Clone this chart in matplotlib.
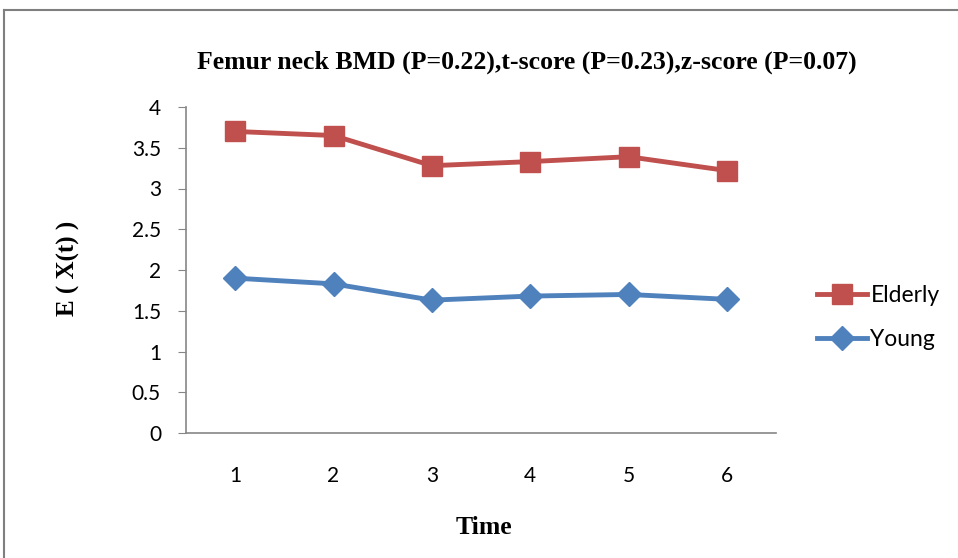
import matplotlib.pyplot as plt
from matplotlib.lines import Line2D

# values
time = [1, 2, 3, 4, 5, 6]
elderly = [3.70, 3.65, 3.28, 3.33, 3.39, 3.22]
young = [1.90, 1.83, 1.63, 1.68, 1.70, 1.64]
yticks = [0, 0.5, 1, 1.5, 2, 2.5, 3, 3.5, 4]
ytick_labels = ['0', '0.5', '1', '1.5', '2', '2.5', '3', '3.5', '4']

serif = 'Liberation Serif'
sans = 'Lato'

fig = plt.figure(figsize=(9.58, 5.58), dpi=100)
ax = fig.add_axes([186 / 958, 1 - 433 / 558, 590 / 958, 326 / 558])

ax.plot(time, elderly, color='#C0504D', lw=3.5, marker='s', ms=15, label='Elderly')
ax.plot(time, young, color='#4F81BD', lw=3.5, marker='D', ms=12, label='Young')

ax.set_xlim(0.5, 6.5)
ax.set_ylim(0, 4)
ax.set_xticks(time)
ax.set_xticklabels([str(t) for t in time], fontfamily=sans, fontsize=15)
ax.set_yticks(yticks)
ax.set_yticklabels(ytick_labels, fontfamily=sans, fontsize=15)
ax.tick_params(axis='x', length=0, pad=24)
ax.tick_params(axis='y', length=6, color='#868686', pad=12)

for s in ['top', 'right']:
    ax.spines[s].set_visible(False)
for s in ['left', 'bottom']:
    ax.spines[s].set_color('#868686')
    ax.spines[s].set_linewidth(1.2)

fig.text(527 / 958, 1 - 62 / 558, 'Femur neck BMD (P=0.22),t-score (P=0.23),z-score (P=0.07)',
         ha='center', va='center', fontfamily=serif, fontweight='bold', fontsize=18.5)
fig.text(68 / 958, 1 - 268 / 558, 'E ( X(t) )', rotation=90, ha='center', va='center',
         fontfamily=serif, fontweight='bold', fontsize=18)
fig.text(484 / 958, 1 - 527 / 558, 'Time', ha='center', va='center',
         fontfamily=serif, fontweight='bold', fontsize=18.5)

leg = fig.legend(loc='upper left', bbox_to_anchor=(796 / 958, 1 - 264 / 558),
                 frameon=False, prop={'family': sans, 'size': 16.5},
                 handlelength=2.2, handletextpad=0.15, labelspacing=1.0)

# chart border (left and top edges visible)
fig.add_artist(Line2D([4 / 958, 4 / 958], [0, 1 - 10 / 558], color='#7f7f7f', lw=1.5))
fig.add_artist(Line2D([4 / 958, 1], [1 - 10 / 558, 1 - 10 / 558], color='#7f7f7f', lw=1.5))

fig.savefig('out.png', dpi=100)
